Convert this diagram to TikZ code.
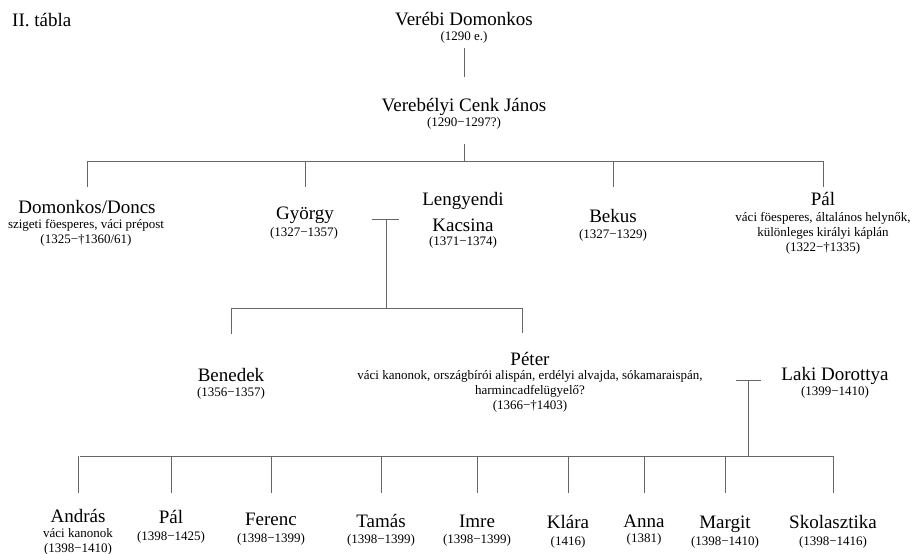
\documentclass[tikz,border=0pt]{standalone}
\usepackage{fontspec}
\setmainfont{Liberation Serif}
\tikzset{
  nev/.style={font=\fontsize{19}{26}\selectfont, anchor=base, inner sep=0pt, align=center},
  adat/.style={font=\fontsize{13}{15}\selectfont, anchor=base, inner sep=0pt, align=center},
  vonal/.style={draw=black!60, line width=0.8pt}
}
\begin{document}
\begin{tikzpicture}[x=1pt,y=-1pt]
  \useasboundingbox (0,0) rectangle (913,554);
  \node[nev, anchor=base west] (cim) at (12,26) {II. tábla};
  % elso nemzedekek
  \node[nev] (verebi) at (464,25) {Verébi Domonkos};
  \node[adat] (verebi-d) at (464,40) {(1290 e.)};
  \node[nev] (cenk) at (464,111) {Verebélyi Cenk János};
  \node[adat] (cenk-d) at (464,126) {(1290−1297?)};
  % Cenk Janos gyermekei (tobbsoros node: base = utolso sor)
  \node[nev] (domonkos) at (87,213) {Domonkos/Doncs};
  \node[adat] (domonkos-d) at (86,243) {szigeti föesperes, váci prépost\\(1325−†1360/61)};
  \node[nev] (gyorgy) at (305,219) {György};
  \node[adat] (gyorgy-d) at (304,236) {(1327−1357)};
  \node[nev] (kacsina) at (463,231) {Lengyendi\\Kacsina};
  \node[adat] (kacsina-d) at (463,245) {(1371−1374)};
  \node[nev] (bekus) at (613,222) {Bekus};
  \node[adat] (bekus-d) at (613,238) {(1327−1329)};
  \node[nev] (pal1) at (823,205) {Pál};
  \node[adat] (pal1-d) at (823,251) {váci föesperes, általános helynők,\\különleges királyi káplán\\(1322−†1335)};
  % Gyorgy gyermekei
  \node[nev] (benedek) at (231,381) {Benedek};
  \node[adat] (benedek-d) at (231,396) {(1356−1357)};
  \node[nev] (peter) at (530,365) {Péter};
  \node[adat] (peter-d) at (530,409) {váci kanonok, országbírói alispán, erdélyi alvajda, sókamaraispán,\\harmincadfelügyelő?\\(1366−†1403)};
  \node[nev] (dorottya) at (835,380) {Laki Dorottya};
  \node[adat] (dorottya-d) at (835,395) {(1399−1410)};
  % Peter gyermekei
  \node[nev] (andras) at (78,522) {András};
  \node[adat] (andras-d) at (78,552) {váci kanonok\\(1398−1410)};
  \node[nev] (pal2) at (171,523) {Pál};
  \node[adat] (pal2-d) at (171,540) {(1398−1425)};
  \node[nev] (ferenc) at (271,525) {Ferenc};
  \node[adat] (ferenc-d) at (271,542) {(1398−1399)};
  \node[nev] (tamas) at (381,527) {Tamás};
  \node[adat] (tamas-d) at (381,543) {(1398−1399)};
  \node[nev] (imre) at (477,527) {Imre};
  \node[adat] (imre-d) at (477,543) {(1398−1399)};
  \node[nev] (klara) at (568,528) {Klára};
  \node[adat] (klara-d) at (568,545) {(1416)};
  \node[nev] (anna) at (644,527) {Anna};
  \node[adat] (anna-d) at (644,542) {(1381)};
  \node[nev] (margit) at (725,528) {Margit};
  \node[adat] (margit-d) at (725,545) {(1398−1410)};
  \node[nev] (skolasztika) at (833,528) {Skolasztika};
  \node[adat] (skolasztika-d) at (833,545) {(1398−1416)};
  % csomopontok
  \coordinate (b1) at (464,161);
  \coordinate (m1) at (386,219);
  \coordinate (b2) at (386,308);
  \coordinate (m2) at (748,380);
  \coordinate (b3) at (748,456);
  \begin{scope}[vonal]
    \draw ([yshift=-8pt]verebi-d.base) -- ([yshift=34pt]cenk.base);
    \draw ([yshift=-18pt]cenk-d.base) -- (b1);
    \draw (b1 -| domonkos) -- (b1 -| pal1);
    \foreach \n in {domonkos,gyorgy,bekus,pal1}
      \draw (b1 -| \n) -- ++(0,26);
    \draw ([xshift=-14pt]m1) -- ([xshift=13pt]m1);
    \draw (m1) -- (b2);
    \draw (b2 -| benedek) -- ([xshift=-8pt]b2 -| peter);
    \draw (b2 -| benedek) -- ++(0,26);
    \draw ([xshift=-8pt]b2 -| peter) -- ++(0,25);
    \draw ([xshift=-12pt]m2) -- ([xshift=13pt]m2);
    \draw (m2) -- (b3);
    \draw ([xshift=2pt]b3 -| andras) -- (b3 -| skolasztika);
    \foreach \n in {andras,pal2,ferenc,tamas,imre,klara,anna,margit,skolasztika}
      \draw (b3 -| \n) -- ++(0,37);
  \end{scope}
\end{tikzpicture}
\end{document}
